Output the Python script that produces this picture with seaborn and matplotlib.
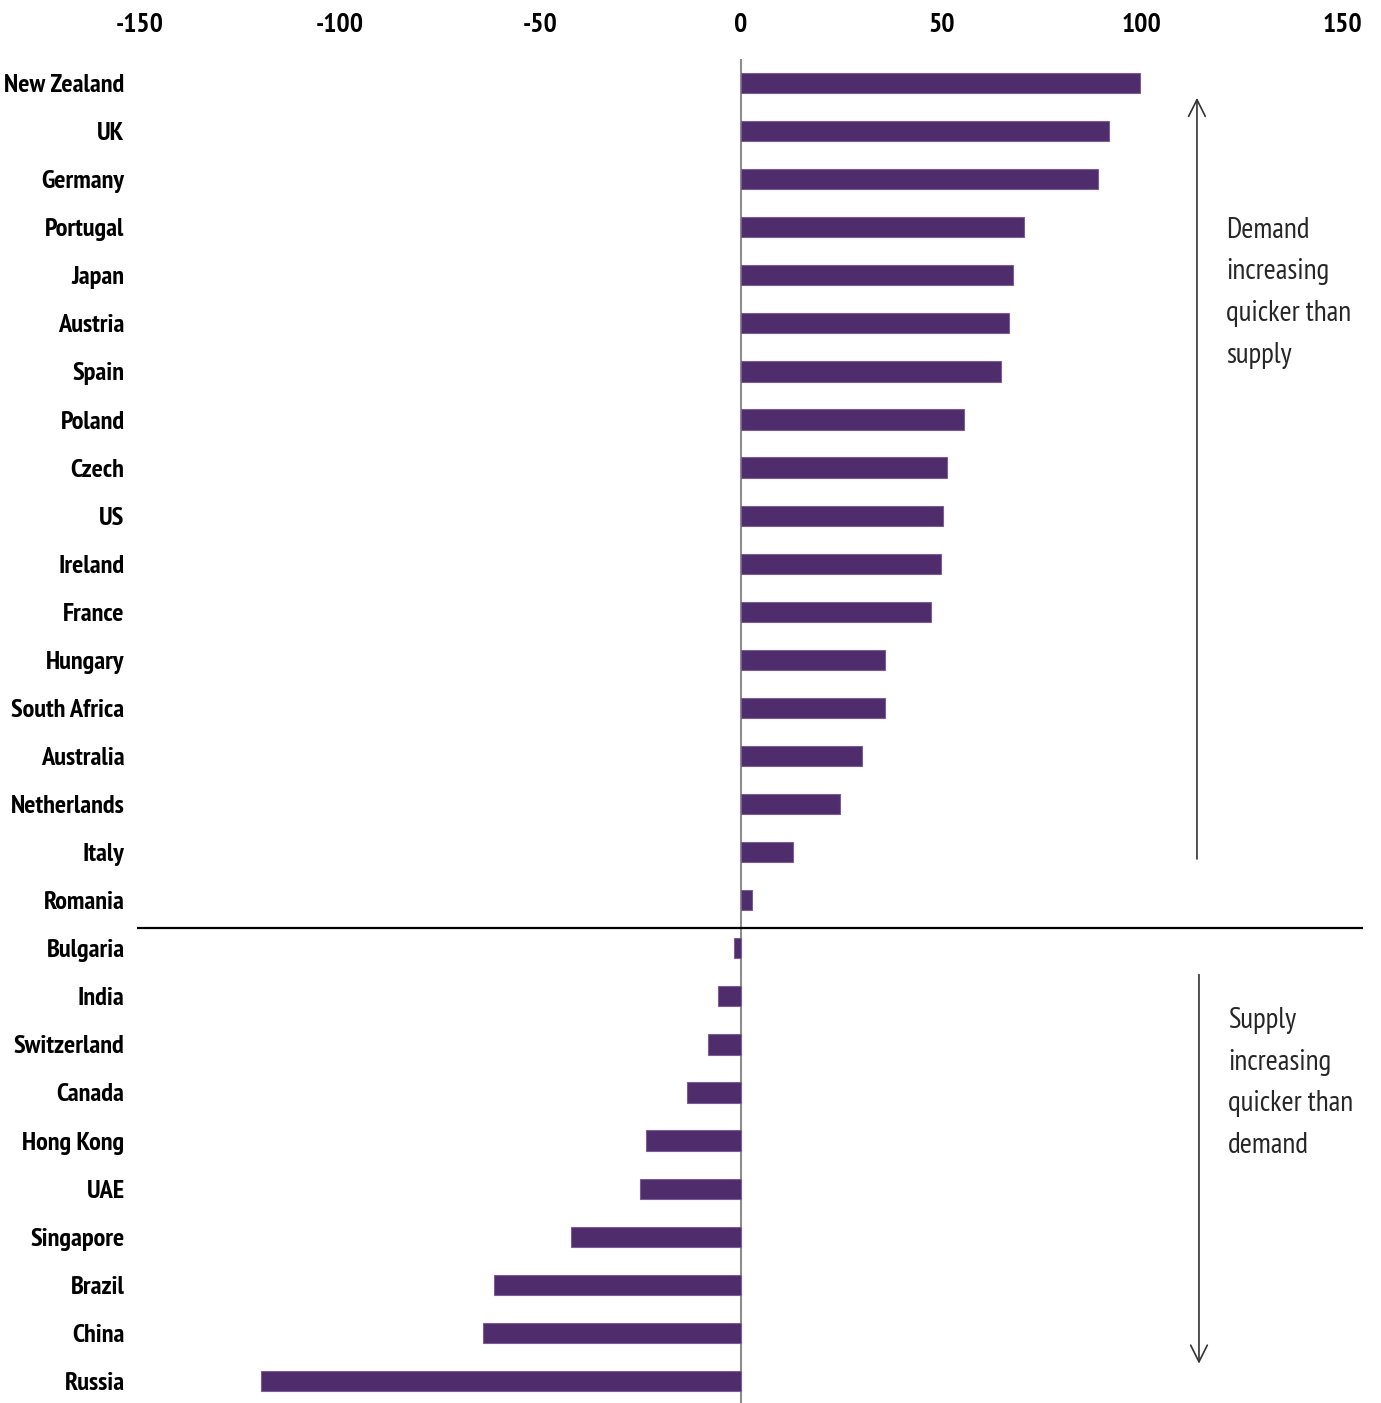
import matplotlib
matplotlib.use("Agg")
import matplotlib.pyplot as plt
from matplotlib import font_manager as fm
import seaborn as sns
import pandas as pd

countries = ["New Zealand", "UK", "Germany", "Portugal", "Japan", "Austria", "Spain",
             "Poland", "Czech", "US", "Ireland", "France", "Hungary", "South Africa",
             "Australia", "Netherlands", "Italy", "Romania", "Bulgaria", "India",
             "Switzerland", "Canada", "Hong Kong", "UAE", "Singapore", "Brazil",
             "China", "Russia"]
values = [99.5, 91.8, 89, 70.6, 67.8, 66.8, 64.8, 55.6, 51.4, 50.4, 49.9, 47.4,
          35.9, 35.8, 30.2, 24.7, 13, 2.7, -1.7, -5.7, -8.2, -13.5, -23.7, -25.2,
          -42.4, -61.6, -64.3, -119.7]
x_ticks = [-150, -100, -50, 0, 50, 100, 150]

upper_note = "Demand\nincreasing\nquicker than\nsupply"
lower_note = "Supply\nincreasing\nquicker than\ndemand"

df = pd.DataFrame({"country": countries, "value": values})

sns.set_style("white")
available = {f.name for f in fm.fontManager.ttflist}
narrow = next((n for n in ["Liberation Sans Narrow", "Arial Narrow", "PT Sans Narrow",
                           "Roboto Condensed", "Archivo Narrow"] if n in available),
              "DejaVu Sans")
plt.rcParams["font.family"] = [narrow, "DejaVu Sans"]
plt.rcParams["axes.unicode_minus"] = False

W, H = 1381, 1403
fig = plt.figure(figsize=(W / 100, H / 100), dpi=100)
ax = fig.add_axes([137 / W, 0.0, (1363 - 137) / W, (H - 59) / H])

bar_color = "#4f2d6c"
sns.barplot(data=df, y="country", x="value", orient="h", color=bar_color,
            width=0.42, edgecolor="#7a5e93", linewidth=0.8, saturation=1, ax=ax)

ax.set_xlim(-150.6, 155.1)
ax.set_ylim(27.46, -0.5)
ax.set_xticks(x_ticks)
ax.xaxis.tick_top()
ax.tick_params(axis="x", length=0, pad=16, labelsize=20, labelcolor="black")
ax.tick_params(axis="y", length=0, pad=9, labelsize=19, labelcolor="black")
for lab in ax.get_xticklabels() + ax.get_yticklabels():
    lab.set_fontweight("bold")
ax.set_xlabel("")
ax.set_ylabel("")
for s in ax.spines.values():
    s.set_visible(False)

# zero line and divider between positive and negative values
ax.axvline(0, color="#8c8c8c", lw=1.5, zorder=0)
ax.axhline(17.57, color="black", lw=1.6)

# direction arrows
ax.annotate("", xy=(113.7, 0.25), xytext=(113.7, 16.2),
            arrowprops=dict(arrowstyle="->", color="#333333", lw=1.2,
                            mutation_scale=30))
ax.annotate("", xy=(114.2, 26.7), xytext=(114.2, 18.49),
            arrowprops=dict(arrowstyle="->", color="#333333", lw=1.2,
                            mutation_scale=30))

ax.text(121, 2.78, upper_note, fontsize=21, va="top", ha="left", linespacing=1.7)
ax.text(121.5, 19.22, lower_note, fontsize=21, va="top", ha="left", linespacing=1.7)

fig.savefig("out.png", dpi=100)
